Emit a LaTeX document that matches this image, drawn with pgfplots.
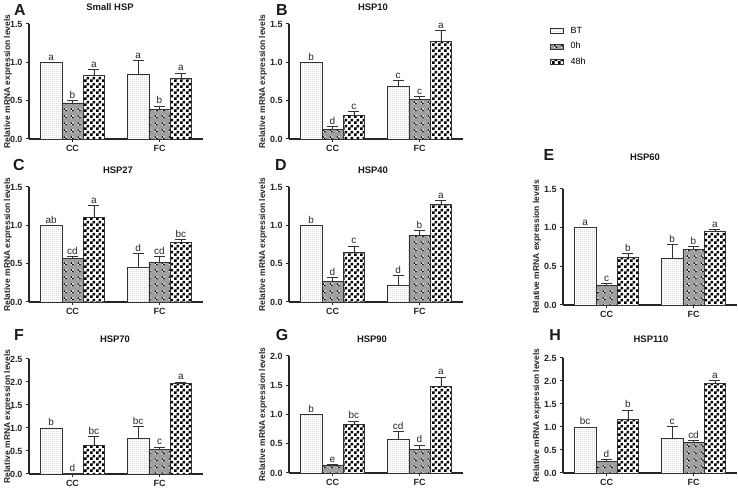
\documentclass[border=0pt]{standalone}
\usepackage{pgfplots}
\pgfplotsset{compat=1.18}
\usepackage{pgfplotstable}
\usepackage{fontspec}
\setmainfont{Liberation Sans}
\usetikzlibrary{patterns}

\pgfdeclarepatternformonly{bigcheck}{\pgfpointorigin}{\pgfqpoint{6bp}{6bp}}{\pgfqpoint{6bp}{6bp}}{%
 \pgfpathrectangle{\pgfpointorigin}{\pgfqpoint{3bp}{3bp}}%
 \pgfpathrectangle{\pgfqpoint{3bp}{3bp}}{\pgfqpoint{3bp}{3bp}}%
 \pgfusepath{fill}}
\pgfdeclarepatternformonly{spotw}{\pgfpointorigin}{\pgfqpoint{7bp}{7bp}}{\pgfqpoint{7bp}{7bp}}{%
 \pgfpathrectangle{\pgfqpoint{1bp}{1bp}}{\pgfqpoint{1.5bp}{1.5bp}}%
 \pgfpathrectangle{\pgfqpoint{2.5bp}{2.5bp}}{\pgfqpoint{1.5bp}{1.5bp}}%
 \pgfusepath{fill}}
\pgfdeclarepatternformonly{spotb}{\pgfpointorigin}{\pgfqpoint{7bp}{7bp}}{\pgfqpoint{7bp}{7bp}}{%
 \pgfpathrectangle{\pgfqpoint{2.5bp}{1bp}}{\pgfqpoint{1.5bp}{1.5bp}}%
 \pgfpathrectangle{\pgfqpoint{1bp}{2.5bp}}{\pgfqpoint{1.5bp}{1.5bp}}%
 \pgfusepath{fill}}
\pgfdeclarepatternformonly{finedots}{\pgfpointorigin}{\pgfqpoint{2bp}{2bp}}{\pgfqpoint{2bp}{2bp}}{%
 \pgfpathrectangle{\pgfpointorigin}{\pgfqpoint{0.9bp}{0.9bp}}%
 \pgfusepath{fill}}

% columns: x, BT mean/err/letter, 0h mean/err/letter, 48h mean/err/letter
\pgfplotstableread{
x bt bte btl h0 h0e h0l h48 h48e h48l
1 1.00 0.00 a 0.47 0.03 b 0.83 0.08 a
2 0.85 0.17 a 0.39 0.04 b 0.79 0.07 a
}\tA
\pgfplotstableread{
x bt bte btl h0 h0e h0l h48 h48e h48l
1 1.00 0.00 b 0.13 0.03 d 0.31 0.05 c
2 0.69 0.07 c 0.52 0.03 c 1.28 0.14 a
}\tB
\pgfplotstableread{
x bt bte btl h0 h0e h0l h48 h48e h48l
1 1.00 0.00 ab 0.57 0.02 cd 1.10 0.16 a
2 0.45 0.18 d 0.52 0.07 cd 0.78 0.04 bc
}\tC
\pgfplotstableread{
x bt bte btl h0 h0e h0l h48 h48e h48l
1 1.00 0.00 b 0.27 0.05 d 0.65 0.08 c
2 0.22 0.13 d 0.87 0.06 b 1.27 0.05 a
}\tD
\pgfplotstableread{
x bt bte btl h0 h0e h0l h48 h48e h48l
1 1.00 0.00 a 0.25 0.03 c 0.62 0.05 b
2 0.61 0.17 b 0.72 0.04 b 0.96 0.02 a
}\tE
\pgfplotstableread{
x bt bte btl h0 h0e h0l h48 h48e h48l
1 1.00 0.00 b 0.01 0.00 d 0.62 0.20 bc
2 0.78 0.26 bc 0.54 0.05 c 1.97 0.03 a
}\tF
\pgfplotstableread{
x bt bte btl h0 h0e h0l h48 h48e h48l
1 1.00 0.00 b 0.14 0.01 e 0.83 0.06 bc
2 0.57 0.14 cd 0.41 0.07 d 1.48 0.16 a
}\tG
\pgfplotstableread{
x bt bte btl h0 h0e h0l h48 h48e h48l
1 1.00 0.00 bc 0.26 0.03 d 1.17 0.20 b
2 0.75 0.26 c 0.66 0.04 cd 1.96 0.05 a
}\tH

\pgfplotsset{
 barbase/.style={ybar, bar width=0.246, bar shift=0, draw=black!80, line width=0.5bp,
   error bars/y dir=plus, error bars/y explicit,
   error bars/error bar style={black!80, line width=0.7bp},
   error bars/error mark options={black!80, line width=0.7bp, mark size=5.5bp, rotate=90}},
 btstyle/.style={barbase, fill=white, postaction={pattern=finedots, pattern color=gray!70}},
 h0style/.style={barbase, fill=gray!75, postaction={pattern=spotw, pattern color=white}, postaction={pattern=spotb, pattern color=black}},
 h48style/.style={barbase, fill=white, postaction={pattern=bigcheck, pattern color=black}},
 letters/.style={draw=none, mark=none, forget plot, nodes near coords, point meta=explicit symbolic,
   nodes near coords style={font=\fontsize{10}{11}\selectfont, anchor=south, inner sep=1.8bp, text=black!85}},
 ylabpos/.style={ylabel style={at={(axis description cs:#1,0.5)}, anchor=center}},
 hspaxis/.style={scale only axis, width=174bp, anchor=south west,
   xmin=0.5, xmax=2.5, ymin=0, axis lines*=left,
   axis line style={black!85, line width=1.1bp},
   xtick={1,2}, xticklabels={CC,FC}, ytick distance=0.5,
   tick align=outside, major tick length=3bp, tick style={black!85, line width=1bp},
   ticklabel style={font=\bfseries\fontsize{9}{10}\selectfont, text=black!85},
   yticklabel style={/pgf/number format/.cd, fixed, fixed zerofill, precision=1, assume math mode=true},
   ylabel={Relative mRNA expression levels},
   ylabel style={font=\bfseries\fontsize{8.5}{10}\selectfont, text=black!85},
   clip=false},
}

\newcommand{\panel}[6]{%
\begin{axis}[hspaxis, at={(#1bp,#2bp)}, height=#3bp, ymax=#4, #6]
 \addplot[btstyle] table[x expr=\thisrow{x}-0.246, y=bt, y error=bte]{#5};
 \addplot[h0style] table[x=x, y=h0, y error=h0e]{#5};
 \addplot[h48style] table[x expr=\thisrow{x}+0.246, y=h48, y error=h48e]{#5};
 \addplot[letters] table[x expr=\thisrow{x}-0.246, y expr=\thisrow{bt}+\thisrow{bte}, meta=btl]{#5};
 \addplot[letters] table[x expr=\thisrow{x}, y expr=\thisrow{h0}+\thisrow{h0e}, meta=h0l]{#5};
 \addplot[letters] table[x expr=\thisrow{x}+0.246, y expr=\thisrow{h48}+\thisrow{h48e}, meta=h48l]{#5};
\end{axis}}

\begin{document}
\begin{tikzpicture}[x=1bp, y=1bp]
\useasboundingbox (0,0) rectangle (738,490);
\panel{29}{351}{115}{1.5}{\tA}{ylabpos=-0.121}
\panel{289}{351}{115}{1.5}{\tB}{ylabpos=-0.15, legend style={at={(axis description cs:1.5,0.99)}, anchor=north west, draw=none, fill=none, inner sep=0pt,
   font=\fontsize{9}{10}\selectfont, row sep=3.5bp, cells={anchor=west}},
   legend image code/.code={\draw[#1] (0bp,-2.5bp) rectangle (13bp,2.5bp); \path (18bp,0bp);},
   legend entries={BT,0h,48h}}
\panel{29}{188}{115}{1.5}{\tC}{ylabpos=-0.121}
\panel{289}{188}{115}{1.5}{\tD}{ylabpos=-0.15}
\panel{563}{185}{116}{1.5}{\tE}{ylabpos=-0.15}
\panel{29}{16}{115}{2.5}{\tF}{ylabpos=-0.121}
\panel{289}{17}{117}{2.0}{\tG}{ylabpos=-0.15}
\panel{563}{17}{115}{2.5}{\tH}{ylabpos=-0.15}

\tikzset{plet/.style={font=\bfseries\fontsize{16}{16}\selectfont, text=black!90}, ptit/.style={font=\bfseries\fontsize{9.5}{10}\selectfont, text=black!90}}
\node[plet] at (20,480) {A};   \node[ptit] at (110,483) {Small HSP};
\node[plet] at (282,480) {B};  \node[ptit] at (373,483) {HSP10};
\node[plet] at (19,325) {C};   \node[ptit] at (118,320) {HSP27};
\node[plet] at (281,325) {D};  \node[ptit] at (373,320) {HSP40};
\node[plet] at (549,335) {E};  \node[ptit] at (645,333) {HSP60};
\node[plet] at (19,155) {F};   \node[ptit] at (115,151) {HSP70};
\node[plet] at (282,155) {G};  \node[ptit] at (372,151) {HSP90};
\node[plet] at (555,155) {H};  \node[ptit] at (651,151) {HSP110};
\end{tikzpicture}
\end{document}
